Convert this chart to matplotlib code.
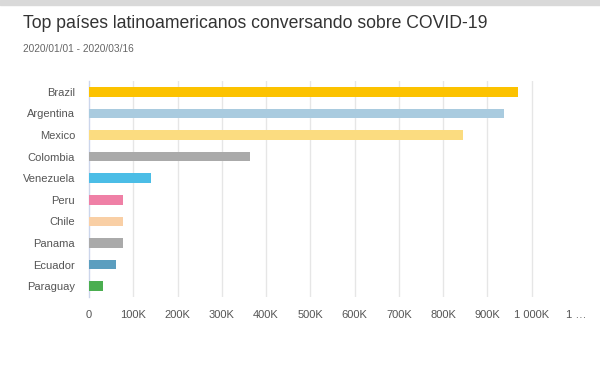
import matplotlib
matplotlib.use('Agg')
import matplotlib.pyplot as plt
from matplotlib.ticker import FuncFormatter

plt.rcParams['font.family'] = ['Liberation Sans', 'DejaVu Sans']

# ── Data ─────────────────────────────────────────────────────────────
countries = ['Brazil', 'Argentina', 'Mexico', 'Colombia', 'Venezuela',
             'Peru', 'Chile', 'Panama', 'Ecuador', 'Paraguay']
mentions = [968000, 937000, 844000, 363000, 140000,
            77000, 77000, 77000, 61000, 31000]
colors = ['#fcc200', '#a9cbdf', '#fbdc80', '#aaaaaa', '#4bbde6',
          '#ef80a6', '#f9cfa5', '#aaaaaa', '#5b9ebf', '#4bae50']
tick_values = [0, 100000, 200000, 300000, 400000, 500000,
               600000, 700000, 800000, 900000, 1000000, 1100000]
tick_labels = ['0', '100K', '200K', '300K', '400K', '500K',
               '600K', '700K', '800K', '900K', '1 000K', '1 …']

title = 'Top países latinoamericanos conversando sobre COVID-19'
subtitle = '2020/01/01 - 2020/03/16'

# ── Figure ───────────────────────────────────────────────────────────
fig = plt.figure(figsize=(6.0, 3.66), dpi=100)
fig.patches.append(plt.Rectangle((0, 0.985), 1, 0.015, transform=fig.transFigure,
                                 color='#d9d9d9', zorder=0))
ax = fig.add_axes((0.1483, 0.1885, 0.8117, 0.5902))

y = range(len(countries))
ax.barh(y, mentions, height=0.44, color=colors, zorder=3)
ax.set_ylim(len(countries) - 0.5, -0.5)
ax.set_xlim(0, 1100000)
ax.set_yticks(list(y))
ax.set_yticklabels(countries)
ax.set_xticks(tick_values)
ax.xaxis.set_major_formatter(FuncFormatter(
    lambda v, pos: tick_labels[pos] if pos is not None and pos < len(tick_labels) else ''))

ax.grid(axis='x', color='#e6e6e6', linewidth=1.0, zorder=0)
ax.xaxis.get_gridlines()[-1].set_visible(False)
ax.xaxis.get_gridlines()[0].set_visible(False)
for side in ('top', 'right', 'bottom'):
    ax.spines[side].set_visible(False)
ax.spines['left'].set_color('#ccd6eb')
ax.spines['left'].set_linewidth(1.0)
ax.tick_params(axis='both', length=0, labelsize=8, labelcolor='#555555')
ax.tick_params(axis='y', pad=10)
ax.tick_params(axis='x', pad=9)

fig.text(0.038, 0.937, title, fontsize=12.7, color='#333333', va='center')
fig.text(0.038, 0.866, subtitle, fontsize=7.3, color='#666666', va='center')

fig.savefig('out.png', dpi=100)
